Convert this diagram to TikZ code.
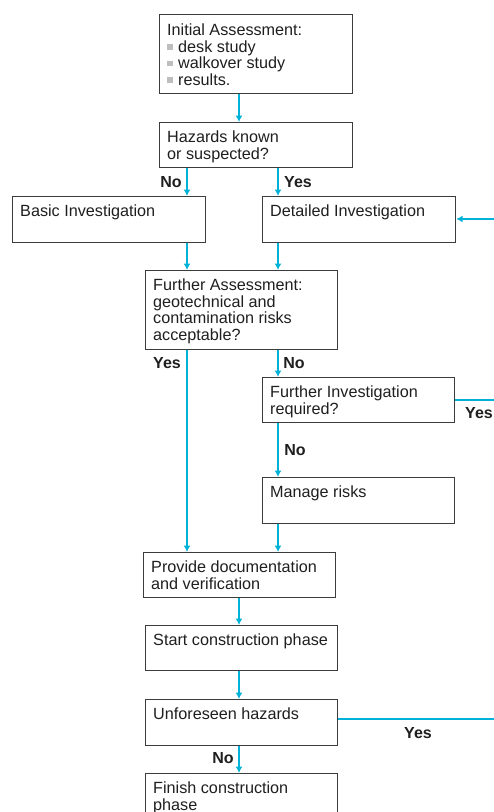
\documentclass[tikz,border=0pt]{standalone}
\usepackage{fontspec}
\setmainfont{Liberation Sans}
\usetikzlibrary{arrows.meta,calc}
\definecolor{flowblue}{RGB}{0,178,215}
\definecolor{boxline}{RGB}{60,60,60}
\definecolor{bulletgray}{RGB}{190,190,190}
\newcommand{\sqbul}{\textcolor{bulletgray}{\raisebox{2.5pt}{\rule{5.5pt}{5.5pt}}}\hspace{5.5pt}}
\begin{document}
\begin{tikzpicture}[x=1pt,y=-1pt,
  flowbox/.style={draw=boxline,line width=1.2pt,fill=white,inner sep=0pt,anchor=north west},
  boxtext/.style={anchor=north west,inner sep=0pt,align=left,font=\fontsize{16.2}{16.6}\selectfont,text=black!88},
  lbl/.style={inner sep=0pt,font=\fontsize{16}{16}\selectfont\bfseries,text=black!88},
  arr/.style={draw=flowblue,line width=1.6pt,-{Latex[length=6.5pt,width=7pt]}},
  ln/.style={draw=flowblue,line width=1.6pt}]
\useasboundingbox (0,0) rectangle (494,812);
\clip (0,0) rectangle (494,812);
% column coordinates
\coordinate (cA) at (187,0);
\coordinate (cB) at (278,0);
\coordinate (cC) at (239,0);
\coordinate (eR1) at (494,219);
\coordinate (eR2) at (494,400);
\coordinate (eR3) at (494,719);
% boxes
\node[flowbox,minimum width=193,minimum height=79] (ia) at (159,14) {};
\node[flowbox,minimum width=193,minimum height=45] (hz) at (159,122) {};
\node[flowbox,minimum width=193,minimum height=46] (bi) at (12,196) {};
\node[flowbox,minimum width=193,minimum height=46] (di) at (262,196) {};
\node[flowbox,minimum width=192,minimum height=79] (fa) at (145,270) {};
\node[flowbox,minimum width=192,minimum height=45] (fi) at (262,377) {};
\node[flowbox,minimum width=192,minimum height=46] (mr) at (262,477) {};
\node[flowbox,minimum width=192,minimum height=45] (pd) at (143,552) {};
\node[flowbox,minimum width=192,minimum height=45] (sc) at (145,625) {};
\node[flowbox,minimum width=192,minimum height=46] (uh) at (145,699) {};
\node[flowbox,minimum width=192,minimum height=50] (fc) at (145,773) {};
% texts
\node[boxtext] (tia) at ($(ia.north west)+(8,9.5)$) {Initial Assessment:\\\sqbul desk study\\\sqbul walkover study\\\sqbul results.};
\node[boxtext] (thz) at ($(hz.north west)+(8,9)$) {Hazards known\\or suspected?};
\node[boxtext] (tbi) at ($(bi.north west)+(8,8.5)$) {Basic Investigation};
\node[boxtext] (tdi) at ($(di.north west)+(8,8.5)$) {Detailed Investigation};
\node[boxtext] (tfa) at ($(fa.north west)+(8,8.5)$) {Further Assessment:\\geotechnical and\\contamination risks\\acceptable?};
\node[boxtext] (tfi) at ($(fi.north west)+(8,8.5)$) {Further Investigation\\required?};
\node[boxtext] (tmr) at ($(mr.north west)+(8,8.5)$) {Manage risks};
\node[boxtext] (tpd) at ($(pd.north west)+(8,8.5)$) {Provide documentation\\and verification};
\node[boxtext] (tsc) at ($(sc.north west)+(8,8.5)$) {Start construction phase};
\node[boxtext] (tuh) at ($(uh.north west)+(8,8.5)$) {Unforeseen hazards};
\node[boxtext] (tfc) at ($(fc.north west)+(8,8.5)$) {Finish construction\\phase};
% connectors
\draw[arr] (ia.south -| cC) -- (hz.north -| cC);
\draw[arr] (hz.south -| cA) -- (bi.north -| cA);
\draw[arr] (hz.south -| cB) -- (di.north -| cB);
\draw[arr] (bi.south -| cA) -- (fa.north -| cA);
\draw[arr] (di.south -| cB) -- (fa.north -| cB);
\draw[arr] (fa.south -| cA) -- (pd.north -| cA);
\draw[arr] (fa.south -| cB) -- (fi.north -| cB);
\draw[arr] (fi.south -| cB) -- (mr.north -| cB);
\draw[arr] (mr.south -| cB) -- (pd.north -| cB);
\draw[arr] (pd.south -| cC) -- (sc.north -| cC);
\draw[arr] (sc.south -| cC) -- (uh.north -| cC);
\draw[arr] (uh.south -| cC) -- (fc.north -| cC);
\draw[arr] (eR1) -- (di.east |- eR1);
\draw[ln] (fi.east |- eR2) -- (eR2);
\draw[ln] (uh.east |- eR3) -- (eR3);
% labels
\node[lbl] (l1) at (171,182) {No};
\node[lbl] (l2) at (298,182) {Yes};
\node[lbl] (l3) at (167,363) {Yes};
\node[lbl] (l4) at (294,363) {No};
\node[lbl] (l5) at (479,413) {Yes};
\node[lbl] (l6) at (295,450) {No};
\node[lbl] (l7) at (418,733) {Yes};
\node[lbl] (l8) at (223,758) {No};
\end{tikzpicture}
\end{document}
